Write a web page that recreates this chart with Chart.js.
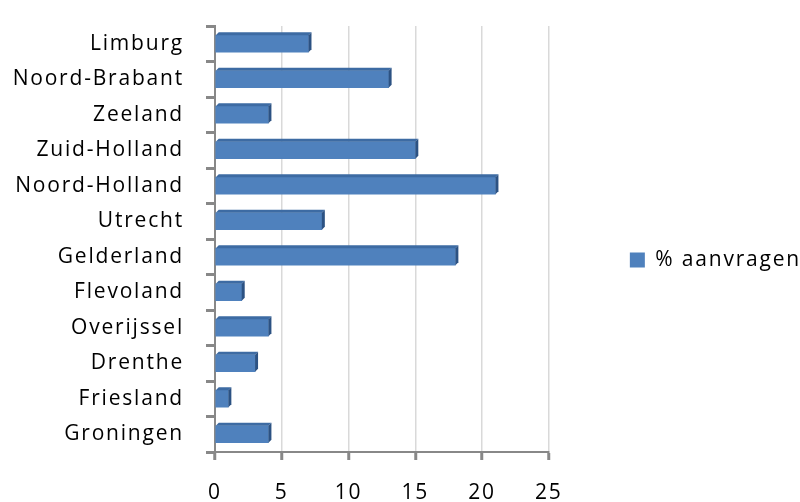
<!DOCTYPE html>
<html>
<head>
<meta charset="utf-8">
<script src="https://cdn.jsdelivr.net/npm/chart.js@4"></script>
<style>
  html, body { margin: 0; padding: 0; background: #fff; }
  #wrap { width: 800px; height: 502px; }
</style>
</head>
<body>
<div id="wrap"><canvas id="myChart"></canvas></div>
<script>
// data
const provinces = ['Limburg', 'Noord-Brabant', 'Zeeland', 'Zuid-Holland', 'Noord-Holland', 'Utrecht',
  'Gelderland', 'Flevoland', 'Overijssel', 'Drenthe', 'Friesland', 'Groningen'];
const aanvragen = [7, 13, 4, 15, 21, 8, 18, 2, 4, 3, 1, 4];
const seriesName = '% aanvragen';
const xMin = 0, xMax = 25, xStep = 5;

const labelFont = { family: 'Open Sans', size: 21 };

// letter spacing like the old office rendering
const spacing = {
  id: 'spacing',
  beforeUpdate(chart) { chart.ctx.letterSpacing = '1.8px'; },
  beforeDraw(chart) { chart.ctx.letterSpacing = '1.8px'; }
};

// fake 3d: top and side face on each bar
const depth = {
  id: 'depth',
  afterDatasetsDraw(chart) {
    const ctx = chart.ctx;
    const d = 3;
    chart.getDatasetMeta(0).data.forEach(bar => {
      const p = bar.getProps(['x', 'y', 'base', 'height'], true);
      const top = p.y - p.height / 2, bottom = p.y + p.height / 2;
      ctx.save();
      ctx.fillStyle = '#3d6ba3';
      ctx.beginPath();
      ctx.moveTo(p.base, top);
      ctx.lineTo(p.base + d, top - d);
      ctx.lineTo(p.x + d, top - d);
      ctx.lineTo(p.x, top);
      ctx.closePath();
      ctx.fill();
      ctx.fillStyle = '#2c5283';
      ctx.beginPath();
      ctx.moveTo(p.x, top);
      ctx.lineTo(p.x + d, top - d);
      ctx.lineTo(p.x + d, bottom - d);
      ctx.lineTo(p.x, bottom);
      ctx.closePath();
      ctx.fill();
      ctx.restore();
    });
  }
};

const data = {
  labels: provinces,
  datasets: [{
    label: seriesName,
    data: aanvragen,
    backgroundColor: '#4f81bd',
    borderWidth: 0,
    barThickness: 17
  }]
};

const config = {
  type: 'bar',
  data,
  options: {
    indexAxis: 'y',
    responsive: true,
    maintainAspectRatio: false,
    animation: false,
    layout: { padding: { top: 26, bottom: -8, left: 0, right: -11 } },
    plugins: {
      tooltip: { enabled: false },
      legend: {
        position: 'right',
        labels: {
          boxWidth: 15,
          boxHeight: 15,
          padding: 81,
          color: '#000',
          font: labelFont
        }
      }
    },
    scales: {
      x: {
        min: xMin,
        max: xMax,
        afterFit(scale) { scale.height = 58; },
        ticks: { stepSize: xStep, color: '#000', font: labelFont, padding: 20 },
        grid: { color: '#d9d9d9', lineWidth: 1.5, tickColor: '#888', tickWidth: 3, tickLength: 8 },
        border: { color: '#888', width: 2 }
      },
      y: {
        afterFit(scale) {
          scale.width = 215;
          scale.paddingTop = 0;
          scale.paddingBottom = 0;
        },
        ticks: { color: '#000', font: labelFont, padding: 22 },
        grid: { drawOnChartArea: false, color: '#888', lineWidth: 3, tickLength: 9 },
        border: { color: '#888', width: 2 }
      }
    }
  },
  plugins: [spacing, depth]
};

const myChart = new Chart(document.getElementById('myChart'), config);

// the legend is capped at a quarter of the width by default, let it be wider
const legendBox = myChart.legend;
const baseFit = legendBox.fit;
legendBox.fit = function () {
  this.maxWidth = 400;
  baseFit.call(this);
};
// legend sits a bit higher than the middle of its box
const baseDraw = legendBox.draw;
legendBox.draw = function (area) {
  this.ctx.save();
  this.ctx.translate(0, -8);
  baseDraw.call(this, area);
  this.ctx.restore();
};
myChart.update();
</script>
</body>
</html>
